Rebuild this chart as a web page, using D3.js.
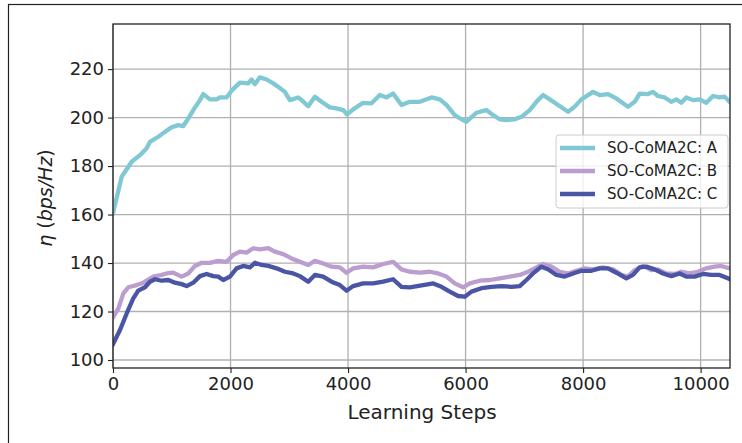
<!DOCTYPE html>
<html>
<head>
<meta charset="utf-8">
<script src="https://cdn.jsdelivr.net/npm/d3@7"></script>
<style>
  html, body { margin: 0; padding: 0; background: #fff; }
  svg { display: block; font-family: "DejaVu Sans", sans-serif; }
</style>
</head>
<body>
<svg id="chart" width="742" height="443"></svg>
<script>
// Spectral efficiency over training for three agents
const stepsA = [0,148,318,459,573,629,771,884,998,1111,1196,1281,1366,1480,1537,1650,1763,1820,1933,2018,2160,2302,2358,2415,2500,2614,2727,2811,2925,3010,3152,3209,3322,3435,3549,3690,3804,3917,3985,4087,4257,4399,4541,4654,4767,4909,5051,5221,5420,5561,5675,5816,5930,6015,6185,6355,6468,6582,6695,6837,6951,7092,7206,7319,7432,7574,7744,7857,7971,8168,8282,8424,8566,8679,8764,8878,8963,9104,9189,9274,9388,9501,9586,9671,9756,9869,9983,10097,10210,10323,10408,10493];
const valuesA = [160.6,175.6,181.8,184.5,187.3,190.0,192.1,194.1,196.0,196.9,196.5,199.6,203.1,207.2,209.7,207.5,207.5,208.3,208.3,211.1,214.4,214.1,215.7,213.8,216.6,215.7,214.1,212.7,210.6,207.2,208.3,207.2,204.7,208.6,206.5,204.2,203.8,203.1,201.3,203.4,206.1,205.9,209.3,208.3,209.9,205.2,206.5,206.5,208.3,207.5,205.2,201.0,199.3,198.3,202.0,203.1,201.0,199.3,199.0,199.3,200.3,203.1,206.5,209.3,207.5,205.2,202.4,204.5,207.5,210.6,209.3,209.7,207.9,205.9,204.5,206.5,209.9,209.7,210.6,208.9,208.3,206.5,207.5,206.1,208.3,207.2,207.5,206.1,208.9,208.3,208.6,206.5];

const stepsB = [0,91,176,261,402,516,686,828,913,1026,1168,1281,1395,1508,1650,1791,1933,2046,2160,2273,2386,2500,2642,2755,2897,3039,3180,3322,3435,3577,3719,3861,3974,4087,4257,4427,4597,4767,4909,5051,5221,5391,5533,5675,5816,5958,6071,6241,6412,6582,6752,6922,7063,7177,7319,7461,7602,7744,7886,8027,8168,8339,8509,8651,8764,8878,9019,9161,9274,9416,9558,9671,9813,9955,10097,10238,10352,10493];
const valuesB = [117.6,121.3,127.5,130.0,130.9,131.9,134.4,135.1,135.7,136.0,134.4,135.7,138.8,140.1,140.1,140.9,140.5,143.3,144.7,144.3,146.1,145.6,146.1,144.7,143.7,141.9,140.5,139.2,140.9,139.8,138.5,138.2,136.0,137.8,138.5,138.2,139.6,140.5,137.4,136.4,136.0,136.4,135.7,134.4,131.6,130.0,131.6,132.7,133.0,133.7,134.4,135.1,136.4,137.8,139.6,138.5,136.4,135.7,136.8,137.8,137.4,138.2,137.4,135.1,134.4,137.1,138.8,137.1,137.4,135.7,135.5,136.4,135.7,136.4,137.8,138.5,138.8,137.8];

const stepsC = [0,119,233,345,430,544,629,714,828,941,1054,1168,1253,1366,1480,1593,1706,1791,1876,1990,2103,2216,2330,2415,2529,2642,2784,2925,3067,3180,3322,3435,3577,3719,3861,3974,4087,4257,4427,4597,4767,4909,5051,5278,5448,5590,5731,5873,5986,6100,6270,6440,6610,6780,6922,7035,7148,7290,7403,7545,7687,7829,7971,8141,8282,8424,8566,8736,8849,8963,9076,9217,9359,9501,9643,9756,9898,10040,10181,10323,10493];
const valuesC = [106.6,112.4,119.2,125.4,128.6,130.0,132.3,133.3,132.7,133.0,131.9,131.3,130.5,131.9,134.6,135.5,134.6,134.4,133.0,134.4,137.8,138.8,138.2,140.1,139.2,138.8,137.8,136.4,135.7,134.6,132.3,135.1,134.4,132.3,130.9,128.6,130.5,131.6,131.6,132.3,133.3,130.2,130.0,130.9,131.6,130.2,128.2,126.4,126.1,128.2,129.6,130.2,130.5,130.2,130.5,133.0,135.7,138.5,137.4,135.1,134.4,135.7,136.8,136.8,137.8,137.8,136.0,133.7,135.1,138.2,138.5,137.4,135.7,134.6,135.7,134.4,134.4,135.5,135.1,135.1,133.4];

const seriesNames = ["SO-CoMA2C: A", "SO-CoMA2C: B", "SO-CoMA2C: C"];
const seriesColors = ["#7fc8d4", "#bb9ecf", "#4b55a5"];
const xTicks = [0, 2000, 4000, 6000, 8000, 10000];
const yTicks = [100, 120, 140, 160, 180, 200, 220];

const series = [
  { name: seriesNames[0], color: seriesColors[0], pts: stepsA.map((s, i) => [s, valuesA[i]]) },
  { name: seriesNames[1], color: seriesColors[1], pts: stepsB.map((s, i) => [s, valuesB[i]]) },
  { name: seriesNames[2], color: seriesColors[2], pts: stepsC.map((s, i) => [s, valuesC[i]]) }
];

const svg = d3.select("#chart");
const plotL = 113, plotT = 24, plotR = 730, plotB = 368;

// figure frame
svg.append("rect")
  .attr("x", 8.5).attr("y", 4.5).attr("width", 800).attr("height", 500)
  .attr("fill", "none").attr("stroke", "#222").attr("stroke-width", 1.2);

const x = d3.scaleLinear().domain([0, 10500]).range([plotL, plotR]);
const y = d3.scaleLinear().domain([96.7, 238.6]).range([plotB, plotT]);

// grid
const grid = svg.append("g");
grid.selectAll(".gx").data(xTicks).join("line")
  .attr("x1", d => x(d)).attr("x2", d => x(d))
  .attr("y1", plotT).attr("y2", plotB)
  .attr("stroke", "#b0b0b0").attr("stroke-width", 1.3);
grid.selectAll(".gy").data(yTicks).join("line")
  .attr("x1", plotL).attr("x2", plotR)
  .attr("y1", d => y(d)).attr("y2", d => y(d))
  .attr("stroke", "#b0b0b0").attr("stroke-width", 1.3);

// series lines
const line = d3.line().x(d => x(d[0])).y(d => y(d[1]));
const plot = svg.append("g");
plot.append("clipPath").attr("id", "clip")
  .append("rect").attr("x", plotL).attr("y", plotT).attr("width", plotR - plotL).attr("height", plotB - plotT);
series.forEach(s => {
  plot.append("path")
    .attr("d", line(s.pts))
    .attr("fill", "none")
    .attr("stroke", s.color)
    .attr("stroke-width", 4.3)
    .attr("stroke-linejoin", "round")
    .attr("stroke-linecap", "square")
    .attr("clip-path", "url(#clip)");
});

// axes
const xAxis = svg.append("g").attr("transform", `translate(0,${plotB})`)
  .call(d3.axisBottom(x).tickValues(xTicks).tickFormat(d3.format("d")).tickSize(5).tickPadding(4));
const yAxis = svg.append("g").attr("transform", `translate(${plotL},0)`)
  .call(d3.axisLeft(y).tickValues(yTicks).tickFormat(d3.format("d")).tickSize(5).tickPadding(4));
[xAxis, yAxis].forEach(a => {
  a.select(".domain").remove();
  a.selectAll("line").attr("stroke", "#222").attr("stroke-width", 1.1);
  a.selectAll("text").attr("fill", "#222").style("font-size", "18px").style("font-family", "DejaVu Sans");
});

// spines
svg.append("rect")
  .attr("x", plotL).attr("y", plotT).attr("width", plotR - plotL).attr("height", plotB - plotT)
  .attr("fill", "none").attr("stroke", "#222").attr("stroke-width", 1.3);

// axis titles
svg.append("text")
  .attr("x", 422).attr("y", 419)
  .attr("text-anchor", "middle").attr("fill", "#222")
  .style("font-size", "20px")
  .text("Learning Steps");

const yl = svg.append("text")
  .attr("transform", `translate(52,198) rotate(-90)`)
  .attr("text-anchor", "middle").attr("fill", "#222")
  .style("font-size", "19px");
yl.append("tspan").style("font-style", "italic").text("η");
yl.append("tspan").text(" (");
yl.append("tspan").style("font-style", "italic").text("bps/Hz");
yl.append("tspan").text(")");

// legend
const lg = svg.append("g");
lg.append("rect")
  .attr("x", 556).attr("y", 135).attr("width", 172).attr("height", 73).attr("rx", 3)
  .attr("fill", "#fff").attr("fill-opacity", 0.8)
  .attr("stroke", "#cccccc").attr("stroke-width", 1);
series.forEach((s, i) => {
  const yy = 148 + i * 23;
  lg.append("line")
    .attr("x1", 560).attr("x2", 595).attr("y1", yy).attr("y2", yy)
    .attr("stroke", s.color).attr("stroke-width", 4.3);
  lg.append("text")
    .attr("x", 607).attr("y", yy).attr("dy", "0.36em")
    .attr("fill", "#222").style("font-size", "15px")
    .text(s.name);
});
</script>
</body>
</html>
